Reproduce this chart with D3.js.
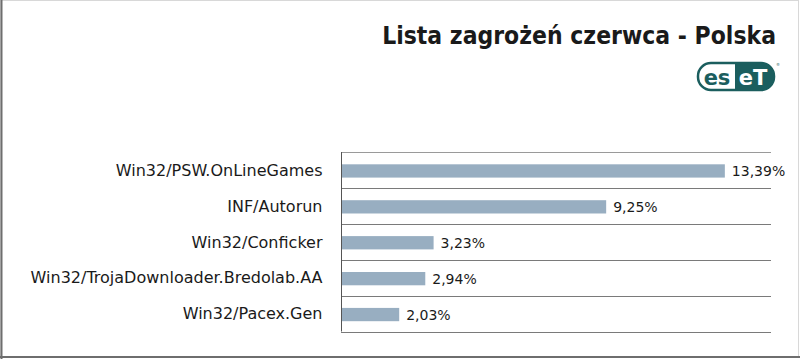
<!DOCTYPE html>
<html><head><meta charset="utf-8">
<script src="https://cdn.jsdelivr.net/npm/d3@7"></script>
<style>
html,body{margin:0;padding:0;background:#fff;}
svg{display:block;}
</style></head>
<body>
<svg id="chart" width="800" height="359"></svg>
<script>
const titleText = "Lista zagrożeń czerwca - Polska";
const categories = ["Win32/PSW.OnLineGames","INF/Autorun","Win32/Conficker","Win32/TrojaDownloader.Bredolab.AA","Win32/Pacex.Gen"];
const values = [13.39, 9.25, 3.23, 2.94, 2.03];
const xDomain = [0, 15];

(function(){
const svg = d3.select("#chart");
const W = 800, H = 359;
const font = "'DejaVu Sans', Verdana, sans-serif";

// frame
svg.append("rect").attr("x",0.5).attr("y",0.5).attr("width",W-2).attr("height",H-2)
  .attr("fill","#fff").attr("stroke","#d8d8d8");
svg.append("line").attr("x1",1.5).attr("x2",1.5).attr("y1",0).attr("y2",H).attr("stroke","#6e6e6e").attr("stroke-width",2);
svg.append("line").attr("x1",0).attr("x2",W).attr("y1",H-2).attr("y2",H-2).attr("stroke","#6e6e6e").attr("stroke-width",2);

// title (horizontally condensed to match the narrower original face)
const tg = svg.append("g");
const title = tg.append("text").attr("x",0).attr("y",0).attr("text-anchor","end")
  .attr("font-family",font).attr("font-weight","bold").attr("font-size",25)
  .attr("fill","#1a1a1a").text(titleText);
const natural = title.node().getComputedTextLength() || 394;
tg.attr("transform",`translate(776,44) scale(${394/natural},1)`);

// ESET logo
const logo = svg.append("g").attr("transform","translate(697,62)");
logo.append("rect").attr("x",1).attr("y",1).attr("width",76).attr("height",27).attr("rx",13).attr("ry",13)
  .attr("fill","#fff").attr("stroke","#1b5e5e").attr("stroke-width",2.5);
logo.append("path").attr("d","M38,1 H64 A13,13 0 0 1 77,14.5 A13,13 0 0 1 64,28 H38 Z").attr("fill","#1b5e5e");
logo.append("text").attr("x",20).attr("y",23).attr("text-anchor","middle").attr("font-family",font)
  .attr("font-weight","bold").attr("font-size",21).attr("fill","#1b5e5e").text("es");
logo.append("text").attr("x",56).attr("y",23).attr("text-anchor","middle").attr("font-family",font)
  .attr("font-weight","bold").attr("font-size",21).attr("fill","#fff").text("eT");
logo.append("text").attr("x",79).attr("y",4).attr("font-family",font).attr("font-size",4).attr("fill","#1b5e5e").text("®");

// scales
const pLeft = 341, pRight = 771, pTop = 152, pBottom = 331.5;
const x = d3.scaleLinear().domain(xDomain).range([pLeft, pRight]);
const y = d3.scaleBand().domain(categories).range([pTop, pBottom]).padding(0);
const bh = y.bandwidth()*0.37;

// gridlines
const edges = categories.map(c=>y(c)).concat([pBottom]);
svg.append("g").selectAll("line").data(edges).join("line")
  .attr("x1",pLeft).attr("x2",pRight).attr("y1",d=>Math.round(d)+0.5).attr("y2",d=>Math.round(d)+0.5)
  .attr("stroke",(d,i)=>i===0?"#9a9a9a":"#7a7a7a").attr("stroke-width",1);

// bars
svg.append("g").selectAll("rect").data(values).join("rect")
  .attr("x",pLeft).attr("y",(d,i)=>y(categories[i])+y.bandwidth()/2-bh/2+1)
  .attr("width",d=>x(d)-pLeft).attr("height",bh).attr("fill","#98aec1");

// axis
const yAxis = d3.axisLeft(y).tickSize(0).tickPadding(19);
const ag = svg.append("g").attr("transform",`translate(${pLeft+0.5},0)`).call(yAxis);
ag.select(".domain").attr("stroke","#555").attr("d",`M0,${pTop}V${pBottom}`);
ag.selectAll("text").attr("font-family",font).attr("font-size",16).attr("fill","#1a1a1a").attr("dy","0.36em");

// value labels
const loc = d3.formatLocale({decimal:",",thousands:" ",grouping:[3],currency:["","%"]});
const fmt = loc.format(".2f");
svg.append("g").selectAll("text").data(values).join("text")
  .attr("x",d=>x(d)+7).attr("y",(d,i)=>y(categories[i])+y.bandwidth()/2+1)
  .attr("dy","0.36em").attr("font-family",font).attr("font-size",14).attr("fill","#1a1a1a")
  .text(d=>fmt(d)+"%");
})();
</script>
</body></html>
